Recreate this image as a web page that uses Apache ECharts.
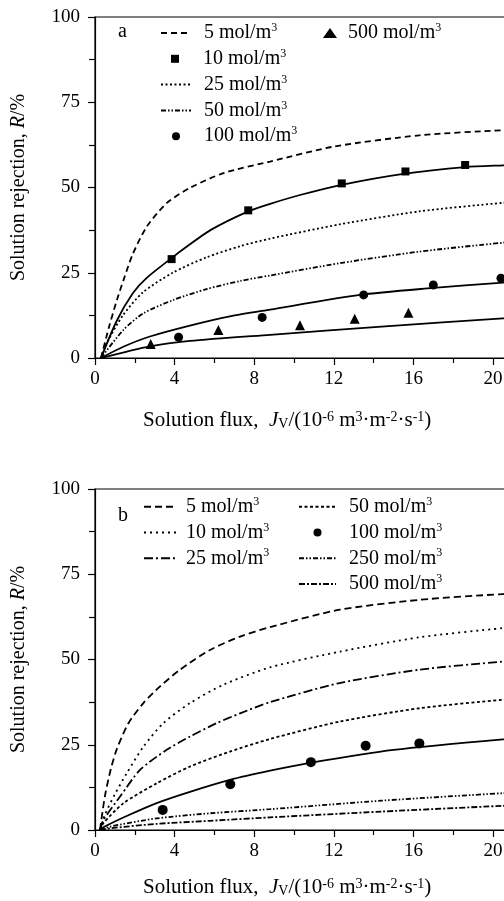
<!DOCTYPE html>
<html>
<head>
<meta charset="utf-8">
<title>Solution rejection vs flux</title>
<script src="https://cdn.jsdelivr.net/npm/echarts@6/dist/echarts.min.js"></script>
<style>
  html, body { margin: 0; padding: 0; background: #fff; }
  #main { width: 504px; height: 901px; }
</style>
</head>
<body>
<div id="main"></div>
<script>
// tick labels
const xTicks = [0, 4, 8, 12, 16, 20];
const yTicks = [0, 25, 50, 75, 100];

// panel a: curves, [flux, rejection]
const a5 = [[0.3, 0], [0.7, 9], [1.1, 17], [1.5, 24], [1.9, 30.5], [2.6, 38.5], [3.6, 45.4], [4.8, 50], [6.5, 54.3], [8.8, 57.6], [12, 62], [16.3, 65.3], [20.5, 66.8], [24, 67.6]];
const a10Fit = [[0.3, 0], [1.1, 11], [1.9, 19], [2.6, 23.5], [3.85, 29.3], [4.6, 32.6], [5.8, 37.5], [7.7, 43], [8.8, 45.2], [10.3, 47.8], [12.4, 50.8], [15.5, 54], [18.6, 56], [20.5, 56.5], [24, 57.3]];
const a10Pts = [[3.85, 29], [7.7, 43.3], [12.4, 51.2], [15.6, 54.7], [18.6, 56.6]];
const a25 = [[0.3, 0], [0.6, 4.5], [1.4, 12.5], [2.4, 19.2], [3.9, 25], [5.6, 29.5], [7.3, 32.8], [8.8, 35], [12.3, 39.2], [16.3, 43], [20.5, 45.5], [24, 47]];
const a50 = [[0.3, 0], [1.42, 8.2], [2.43, 13.1], [3.93, 17], [5.6, 20.2], [7.3, 22.6], [8.8, 24.2], [12.3, 27.8], [16.3, 31.2], [20.5, 33.8], [24, 35.5]];
const a100Fit = [[0.3, 0], [1.42, 3.3], [2.76, 6.3], [4.77, 9.5], [6.78, 12.2], [8.8, 14.2], [13.3, 18.5], [16.7, 20.4], [20.5, 22.1], [24, 23.4]];
const a100Pts = [[4.2, 6.1], [8.4, 11.9], [13.5, 18.5], [17, 21.4], [20.4, 23.4]];
const a500Fit = [[0.3, 0], [2.76, 3.4], [4.77, 5.0], [8.8, 6.8], [14.4, 9.2], [20.5, 11.6], [24, 12.8]];
const a500Pts = [[2.8, 4.1], [6.2, 8.2], [10.3, 9.6], [13.05, 11.5], [15.75, 13.3]];

// panel b
const b5 = [[0.25, 0], [0.5, 10], [0.8, 18], [1.1, 23.8], [1.68, 31.3], [2.43, 37.2], [3.27, 42.1], [4.27, 47], [5.78, 52.8], [7.29, 56.7], [8.8, 59.5], [12.3, 64.6], [16.3, 67.5], [20.5, 69.2], [24, 70.2]];
const b10 = [[0.25, 0], [0.5, 4.5], [1.0, 10.5], [1.59, 16.6], [2.43, 24.4], [3.43, 31.3], [4.77, 37.2], [6.45, 42.6], [8.8, 47.7], [12.3, 52.3], [16.3, 56.5], [20.5, 59.2], [24, 60.8]];
const b25 = [[0.25, 0], [0.42, 2.9], [1.26, 9.8], [2.26, 17.6], [3.6, 23.5], [4.77, 27.4], [6.1, 31.3], [7.29, 34.2], [8.8, 37.5], [12.3, 43.1], [16.3, 47], [20.5, 49.4], [24, 50.8]];
const b50 = [[0.25, 0], [0.42, 2], [1.42, 7.8], [3.1, 13.7], [4.77, 18.6], [6.78, 23], [8.8, 26.7], [12.3, 31.8], [16.3, 35.7], [20.5, 38.2], [24, 39.6]];
const b100Fit = [[0.25, 0], [0.42, 0.8], [1.59, 4.1], [3.1, 7.9], [4.77, 11.2], [6.78, 14.7], [8.8, 17.4], [10.8, 19.7], [15, 23.5], [20.5, 26.6], [24, 28.1]];
const b100Pts = [[3.4, 5.9], [6.8, 13.4], [10.85, 19.9], [13.6, 24.7], [16.3, 25.4]];
const b250 = [[0.25, 0], [0.75, 1], [3.1, 3.4], [5.78, 4.9], [8.8, 6.1], [14.4, 8.6], [20.5, 10.8], [24, 11.9]];
const b500 = [[0.25, 0], [0.75, 0.5], [3.1, 1.8], [5.78, 2.7], [8.8, 3.7], [14.4, 5.4], [20.5, 7.1], [24, 8]];

const FONT = 'Liberation Serif, Times New Roman, serif';
const txt = { fontFamily: FONT, fontSize: 20, fontWeight: 'normal', color: '#000' };
const tick = { fontFamily: FONT, fontSize: 19, fontWeight: 'normal', color: '#000' };
const rich = {
  i: { fontFamily: FONT, fontSize: 20, fontStyle: 'italic', color: '#000' },
  sup: { fontFamily: FONT, fontSize: 12, color: '#000', verticalAlign: 'top', lineHeight: 12 },
  sub: { fontFamily: FONT, fontSize: 12, color: '#000', verticalAlign: 'bottom', lineHeight: 12 }
};
const titleText = Object.assign({}, txt, { fontSize: 21 });
const titleRich = {
  i: { fontFamily: FONT, fontSize: 21, fontStyle: 'italic', color: '#000' },
  sup: { fontFamily: FONT, fontSize: 14, color: '#000', verticalAlign: 'top', lineHeight: 13 },
  sub: { fontFamily: FONT, fontSize: 14, color: '#000', verticalAlign: 'bottom', lineHeight: 13 }
};

function line(name, idx, data, dash, width) {
  return {
    name: name, type: 'line', xAxisIndex: idx, yAxisIndex: idx,
    data: data, smooth: 0.25, symbol: 'none', silent: true,
    itemStyle: { color: '#000' },
    lineStyle: { color: '#000', width: width || 1.8, type: dash }
  };
}
function dots(name, idx, data, symbol, size) {
  return {
    name: name, type: 'scatter', xAxisIndex: idx, yAxisIndex: idx,
    data: data, symbol: symbol, symbolSize: size, silent: true,
    itemStyle: { color: '#000', opacity: 1 }
  };
}

function xAxis(idx) {
  return {
    type: 'value', gridIndex: idx, min: 0, max: 24, interval: 4,
    axisLine: { lineStyle: { color: '#000', width: 1.2 } },
    axisTick: { length: 7, lineStyle: { color: '#000', width: 1.2 } },
    minorTick: { show: true, splitNumber: 2, length: 5, lineStyle: { color: '#000', width: 1.2 } },
    splitLine: { show: false },
    axisLabel: Object.assign({ margin: 12 }, tick)
  };
}
function yAxis(idx) {
  return {
    type: 'value', gridIndex: idx, min: 0, max: 100, interval: 25,
    axisLine: { lineStyle: { color: '#000', width: 1.2 } },
    axisTick: { length: 7, lineStyle: { color: '#000', width: 1.2 } },
    minorTick: { show: true, splitNumber: 2, length: 6, lineStyle: { color: '#000', width: 1.2 } },
    splitLine: { show: false },
    axisLabel: Object.assign({ margin: 15 }, tick),
    name: 'Solution rejection, {i|R}/%',
    nameLocation: 'middle', nameRotate: 90, nameGap: 66,
    nameTextStyle: Object.assign({ rich: rich }, txt)
  };
}

function conc(name) {
  return name.split('-')[1] + ' mol/m{sup|3}';
}
// legend item of a line series: hide the marker ECharts puts in the middle
function li(name) {
  return { name: name, itemStyle: { opacity: 0 } };
}
function legend(left, top, itemWidth, itemHeight, pad, names) {
  return {
    left: left, top: top, orient: 'vertical', padding: 0,
    itemWidth: itemWidth, itemHeight: itemHeight, itemGap: 3.8,
    selectedMode: false, formatter: conc,
    textStyle: Object.assign({ lineHeight: 22, padding: [0, 0, 0, pad], rich: rich }, txt),
    data: names
  };
}

const xTitle = 'Solution flux,  {i|J}{sub|V}/(10{sup|-6} m{sup|3}·m{sup|-2}·s{sup|-1})';

const chart = echarts.init(document.getElementById('main'));
chart.setOption({
  animation: false,
  backgroundColor: '#fff',
  title: [
    { text: 'a', left: 118, top: 22, padding: 0, textStyle: txt },
    { text: 'b', left: 118, top: 506, padding: 0, textStyle: txt },
    { text: xTitle, left: 143, top: 410, padding: 0, textStyle: Object.assign({ rich: titleRich }, titleText) },
    { text: xTitle, left: 143, top: 877, padding: 0, textStyle: Object.assign({ rich: titleRich }, titleText) }
  ],
  grid: [
    { left: 95, top: 17, width: 477.6, height: 341, outerBoundsMode: 'none', show: true, borderColor: '#000', borderWidth: 1.2 },
    { left: 95, top: 489, width: 477.6, height: 341, outerBoundsMode: 'none', show: true, borderColor: '#000', borderWidth: 1.2 }
  ],
  xAxis: [xAxis(0), xAxis(1)],
  yAxis: [yAxis(0), yAxis(1)],
  legend: [
    legend(160, 22, 30, 8, 8, [li('a-5')]),
    legend(171, 47.8, 8, 8, 19, ['a-10']),
    legend(160, 73.6, 30, 8, 8, [li('a-25'), li('a-50'), 'a-100']),
    legend(323, 22, 14, 10, 6, ['a-500']),
    legend(143, 495.7, 32, 8, 5, [li('b-5'), li('b-10'), li('b-25')]),
    legend(298, 495.7, 37, 8, 8, [li('b-50'), 'b-100', li('b-250'), li('b-500')])
  ],
  series: [
    line('a-5', 0, a5, [6, 4]),
    line('a-10 fit', 0, a10Fit, 'solid'),
    dots('a-10', 0, a10Pts, 'rect', 8),
    line('a-25', 0, a25, [2, 2.5]),
    line('a-50', 0, a50, [5, 2, 1.5, 2, 1.5, 2]),
    line('a-100 fit', 0, a100Fit, 'solid'),
    dots('a-100', 0, a100Pts, 'circle', 9),
    line('a-500 fit', 0, a500Fit, 'solid'),
    dots('a-500', 0, a500Pts, 'triangle', 10),

    line('b-5', 1, b5, [7, 4]),
    line('b-10', 1, b10, [2, 4]),
    line('b-25', 1, b25, [9, 3, 2, 3]),
    line('b-50', 1, b50, [3, 2.5]),
    line('b-100 fit', 1, b100Fit, 'solid'),
    dots('b-100', 1, b100Pts, 'circle', 10),
    line('b-250', 1, b250, [5, 2, 1.5, 2, 1.5, 2]),
    line('b-500', 1, b500, [6, 2, 2, 2])
  ]
});
</script>
</body>
</html>
